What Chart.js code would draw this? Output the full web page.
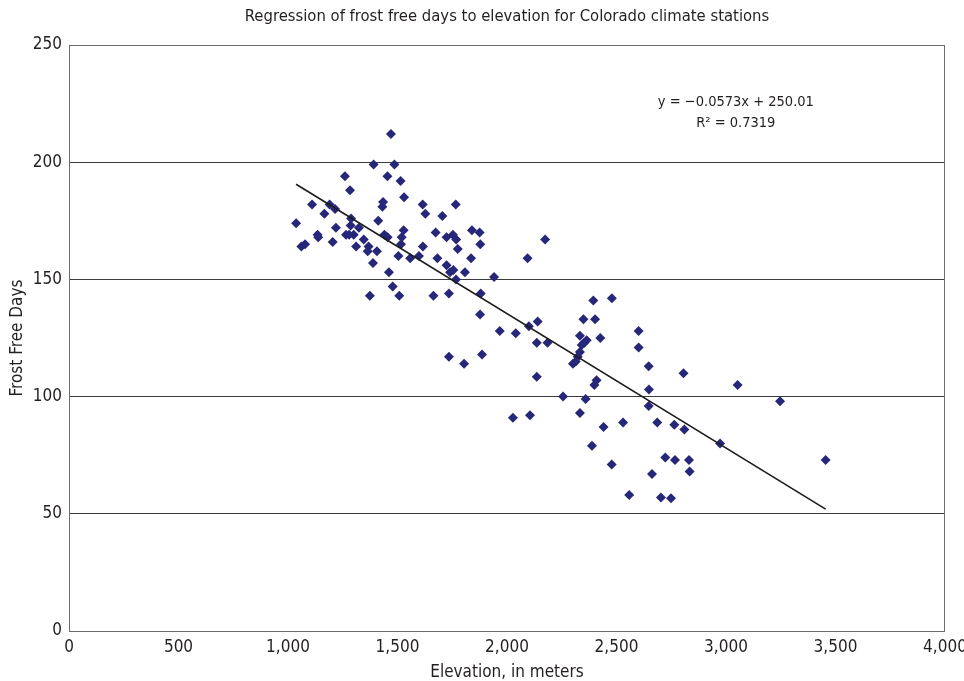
<!DOCTYPE html>
<html>
<head>
<meta charset="utf-8">
<script src="https://cdn.jsdelivr.net/npm/chart.js"></script>
<style>
  body { margin: 0; background: #fff; }
  #wrap { width: 964px; height: 681px; }
</style>
</head>
<body>
<div id="wrap"><canvas id="myChart"></canvas></div>
<script>
// station elevation (m) and frost free days
const elevation = [
  1470, 1391, 1486, 1260, 1454, 1514, 1283, 1530, 1434, 1431,
  1110, 1190, 1215, 1166, 1037, 1288, 1412, 1615, 1627, 1766,
  1705, 1219, 1286, 1324, 1528, 1674, 1840, 1875, 1135, 1138,
  1265, 1279, 1300, 1440, 1455, 1519, 1724, 1753, 1768, 1061,
  1078, 1204, 1346, 1311, 1368, 1364, 1406, 1516, 1616, 1775,
  1878, 1504, 1558, 1598, 1682, 1836, 2094, 2174,
  1388, 1461, 1724, 1755, 1740, 1767, 1808, 1941, 1478, 1374,
  1508, 1664, 1735, 1880, 1877, 1967, 2040, 2100, 2140, 2136,
  1735, 1804, 1886, 2136,
  2185, 2394, 2479, 2349, 2402, 2426, 2333, 2364, 2353, 2341,
  2333, 2323, 2314, 2301, 2601, 2601, 2647, 2806, 2409, 2399,
  2256, 2359, 2648, 2647, 2027, 2105, 2333, 2441, 2530, 2686,
  2764, 2810,
  3053, 2973, 2388, 2478, 2723, 2767, 2831, 2834, 2662, 2558,
  2703, 2749, 3247, 3455
];
const frostDays = [
  212, 199, 199, 194, 194, 192, 188, 185, 183, 181,
  182, 182, 180, 178, 174, 176, 175, 182, 178, 182,
  177, 172, 173, 172, 171, 170, 171, 170, 169, 168,
  169, 169, 169, 169, 168, 168, 168, 169, 167, 164,
  165, 166, 167, 164, 164, 162, 162, 165, 164, 163,
  165, 160, 159, 160, 159, 159, 159, 167,
  157, 153, 156, 154, 153, 150, 153, 151, 147, 143,
  143, 143, 144, 144, 135, 128, 127, 130, 132, 123,
  117, 114, 118, 108.5,
  123, 141, 142, 133, 133, 125, 126, 124, 123, 122,
  119, 117, 115, 114, 128, 121, 113, 110, 107, 105,
  100, 99, 103, 96, 91, 92, 93, 87, 89, 89,
  88, 86,
  105, 80, 79, 71, 74, 73, 73, 68, 67, 58,
  57, 56.6, 98, 73
];

// trend line end points
const trendX = [1037, 3455];
const trendY = [190.6, 52.0];

const chartTitle = 'Regression of frost free days to elevation for Colorado climate stations';
const equationLines = ['y = \u22120.0573x + 250.01', 'R\u00B2 = 0.7319'];

const FONT = "'Liberation Sans Narrow', 'DejaVu Sans Condensed', 'Roboto', sans-serif";
const TEXT = '#231f20';

Chart.defaults.font.family = FONT;
Chart.defaults.font.size = 17;
Chart.defaults.color = TEXT;

const points = elevation.map((e, i) => ({ x: e, y: frostDays[i] }));
const trend = trendX.map((e, i) => ({ x: e, y: trendY[i] }));

const frame = {
  id: 'frame',
  beforeDatasetsDraw(chart) {
    const { ctx, chartArea: a } = chart;
    ctx.save();
    ctx.strokeStyle = '#6b6b6b';
    ctx.lineWidth = 1;
    ctx.strokeRect(a.left + 0.5, a.top + 0.5, a.right - a.left - 1, a.bottom - a.top);
    ctx.restore();
  },
  afterDraw(chart) {
    const { ctx, chartArea: a, scales } = chart;
    ctx.save();
    ctx.fillStyle = TEXT;
    ctx.textAlign = 'center';
    ctx.textBaseline = 'middle';
    ctx.font = '16.5px ' + FONT;
    ctx.fillText(chartTitle, (a.left + a.right) / 2, 17);
    ctx.font = '14.5px ' + FONT;
    const ex = scales.x.getPixelForValue(3045);
    ctx.fillText(equationLines[0], ex, scales.y.getPixelForValue(225.4));
    ctx.fillText(equationLines[1], ex, scales.y.getPixelForValue(216.7));
    ctx.restore();
  }
};

new Chart(document.getElementById('myChart'), {
  type: 'scatter',
  data: {
    datasets: [
      {
        label: 'Trend',
        type: 'line',
        data: trend,
        borderColor: '#1c1c1c',
        borderWidth: 1.6,
        pointRadius: 0,
        fill: false,
        order: 0
      },
      {
        label: 'Stations',
        data: points,
        pointStyle: 'rectRot',
        pointRadius: 5,
        backgroundColor: '#27277a',
        borderColor: '#27277a',
        borderWidth: 0,
        order: 1
      }
    ]
  },
  plugins: [frame],
  options: {
    responsive: true,
    maintainAspectRatio: false,
    animation: false,
    layout: { padding: { top: 45, right: 19, left: 0, bottom: 0 } },
    plugins: {
      legend: { display: false },
      tooltip: { enabled: false }
    },
    scales: {
      x: {
        type: 'linear',
        min: 0,
        max: 4000,
        afterFit(s) { s.height = 50; s.paddingLeft = 0; s.paddingRight = 0; },
        grid: { display: false, drawTicks: false },
        border: { display: false },
        ticks: {
          stepSize: 500,
          padding: 6,
          maxRotation: 0,
          callback: v => v.toLocaleString('en-US')
        },
        title: {
          display: true,
          text: 'Elevation, in meters',
          padding: { top: 0, bottom: -2 }
        }
      },
      y: {
        min: 0,
        max: 250,
        afterFit(s) { s.width = 69; s.paddingTop = 0; s.paddingBottom = 0; },
        grid: { color: '#3c3c3c', lineWidth: 1, drawTicks: false },
        border: { display: false },
        ticks: { stepSize: 50, padding: 7 },
        title: {
          display: true,
          text: 'Frost Free Days',
          padding: { top: 7, bottom: 0 }
        }
      }
    }
  }
});
</script>
</body>
</html>
